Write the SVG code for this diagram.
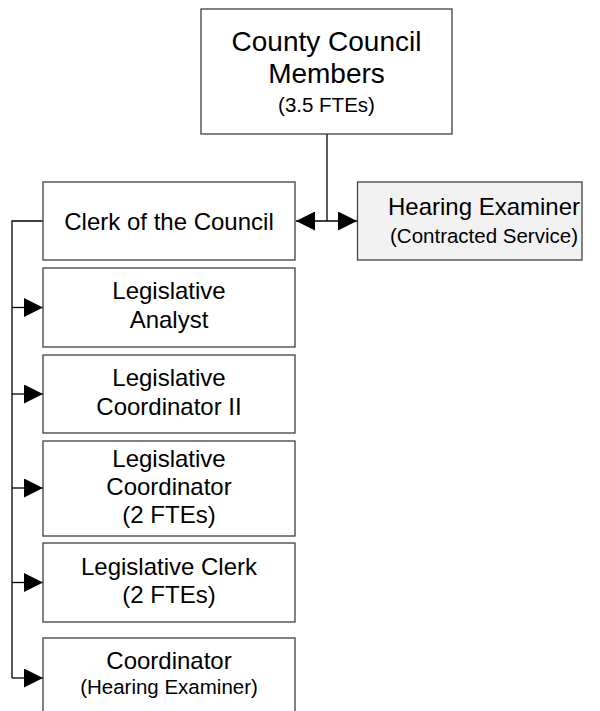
<svg xmlns="http://www.w3.org/2000/svg" width="600" height="711" viewBox="0 0 600 711">
  <style>
    .box { fill: #ffffff; stroke: #404040; stroke-width: 1.3; }
    .shaded { fill: #f2f2f2; }
    .line { fill: none; stroke: #000000; stroke-width: 1.3; }
    text { font-family: "Liberation Sans", Arial, sans-serif; fill: #000000; text-anchor: middle; }
    .big { font-size: 28px; }
    .mid { font-size: 24px; }
    .small { font-size: 20.5px; }
  </style>
  <defs>
    <marker id="arrow" viewBox="0 0 19 19" refX="19" refY="9.5" markerWidth="19" markerHeight="19" markerUnits="userSpaceOnUse" orient="auto-start-reverse">
      <path d="M0,0 L19,9.5 L0,19 Z" fill="#000000"/>
    </marker>
  </defs>

  <!-- connectors -->
  <g id="connectors">
    <line class="line" x1="327" y1="134" x2="327" y2="221"/>
    <line class="line" x1="296" y1="221" x2="357" y2="221" marker-start="url(#arrow)" marker-end="url(#arrow)"/>
    <polyline class="line" points="43,221 12,221 12,678"/>
    <line class="line" x1="12" y1="307.5" x2="43" y2="307.5" marker-end="url(#arrow)"/>
    <line class="line" x1="12" y1="394" x2="43" y2="394" marker-end="url(#arrow)"/>
    <line class="line" x1="12" y1="488" x2="43" y2="488" marker-end="url(#arrow)"/>
    <line class="line" x1="12" y1="582.5" x2="43" y2="582.5" marker-end="url(#arrow)"/>
    <line class="line" x1="12" y1="678" x2="43" y2="678" marker-end="url(#arrow)"/>
  </g>

  <g id="council">
    <rect class="box" x="201" y="9" width="251" height="125"/>
    <text class="big" x="326.5" y="51">County Council</text>
    <text class="big" x="326.5" y="83">Members</text>
    <text class="small" x="326.5" y="112">(3.5 FTEs)</text>
  </g>

  <g id="clerk">
    <rect class="box" x="43" y="182" width="252" height="78"/>
    <text class="mid" x="169" y="229.5">Clerk of the Council</text>
  </g>

  <g id="hearing-examiner">
    <rect class="box shaded" x="357.5" y="182" width="224.5" height="78"/>
    <text class="mid" x="484" y="215">Hearing Examiner</text>
    <text class="small" x="484" y="243">(Contracted Service)</text>
  </g>

  <g id="legislative-analyst">
    <rect class="box" x="43" y="268" width="252" height="79"/>
    <text class="mid" x="169" y="299">Legislative</text>
    <text class="mid" x="169" y="328">Analyst</text>
  </g>

  <g id="legislative-coordinator-2">
    <rect class="box" x="43" y="355" width="252" height="78"/>
    <text class="mid" x="169" y="386">Legislative</text>
    <text class="mid" x="169" y="415">Coordinator II</text>
  </g>

  <g id="legislative-coordinator">
    <rect class="box" x="43" y="441" width="252" height="95"/>
    <text class="mid" x="169" y="467">Legislative</text>
    <text class="mid" x="169" y="495">Coordinator</text>
    <text class="mid" x="169" y="523">(2 FTEs)</text>
  </g>

  <g id="legislative-clerk">
    <rect class="box" x="43" y="543" width="252" height="79"/>
    <text class="mid" x="169" y="575">Legislative Clerk</text>
    <text class="mid" x="169" y="603">(2 FTEs)</text>
  </g>

  <g id="coordinator">
    <rect class="box" x="43" y="638" width="252" height="80"/>
    <text class="mid" x="169" y="669">Coordinator</text>
    <text class="small" x="169" y="694">(Hearing Examiner)</text>
  </g>
</svg>
